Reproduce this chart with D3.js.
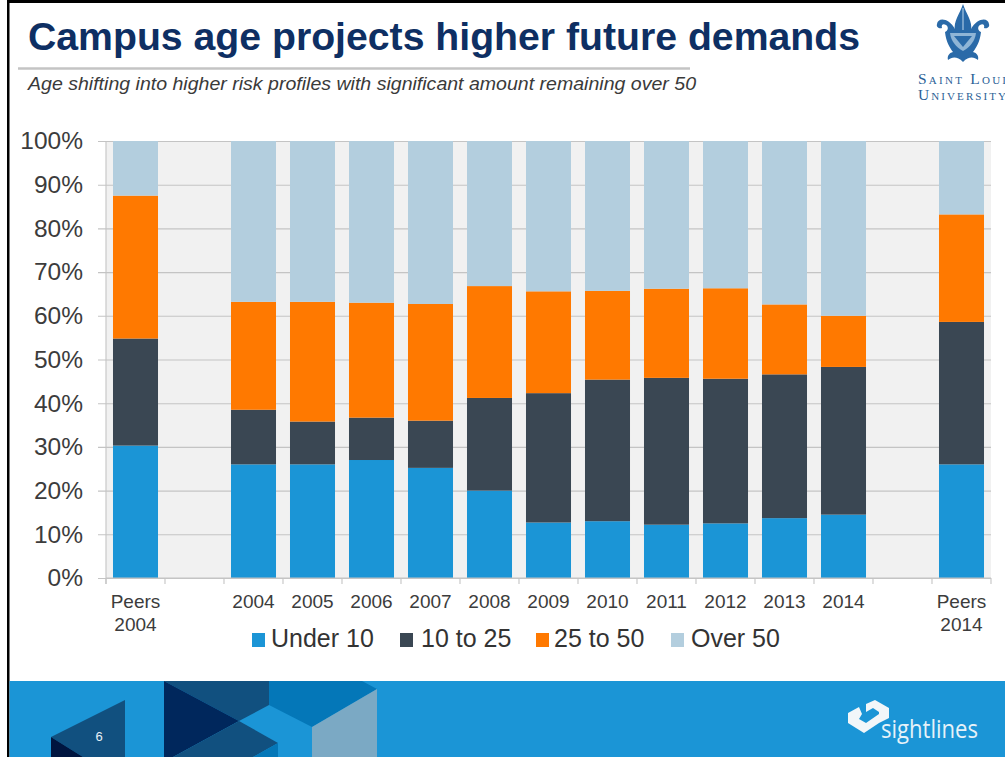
<!DOCTYPE html>
<html><head><meta charset="utf-8">
<script src="https://cdn.jsdelivr.net/npm/d3@7"></script>
<style>html,body{margin:0;padding:0;background:#fff;overflow:hidden}svg{display:block}text{font-family:"Liberation Sans",Arial,sans-serif}</style>
</head><body><svg id="c" width="1005" height="757"></svg>
<script>
const categories=["Peers 2004","gapA","2004","2005","2006","2007","2008","2009","2010","2011","2012","2013","2014","gapB","Peers 2014"];
const under10=[30.3,0,26,26,27,25.2,20,12.7,13,12.2,12.5,13.7,14.5,0,26];
const from10to25=[24.5,0,12.5,9.8,9.7,10.8,21.2,29.6,32.4,33.6,33.1,32.9,33.8,0,32.6];
const from25to50=[32.7,0,24.7,27.4,26.3,26.7,25.6,23.3,20.3,20.4,20.7,16,11.7,0,24.6];
const over50=[12.5,0,36.8,36.8,37,37.3,33.2,34.4,34.3,33.8,33.7,37.4,40,0,16.8];
const seriesNames=["Under 10","10 to 25","25 to 50","Over 50"];
const seriesValues=[under10,from10to25,from25to50,over50];
const seriesColors=["#1b95d6","#3a4753","#ff7900","#b3cede"];
const yTicks=[0,10,20,30,40,50,60,70,80,90,100];

const svg=d3.select("#c");
const x=d3.scaleBand().domain(categories).range([106,991]).paddingInner(0.237).paddingOuter(0.1185);
const y=d3.scaleLinear().domain([0,100]).range([578,141]);
const GRID="#c4c4c4", INK="#3c3c3c";

// slide frame
svg.append("rect").attr("x",7).attr("y",0).attr("width",998).attr("height",3).attr("fill","#000");
svg.append("rect").attr("x",7).attr("y",0).attr("width",2.5).attr("height",757).attr("fill","#000");

// title block
svg.append("text").attr("x",28).attr("y",50).attr("font-size",38.5).attr("font-weight",700).attr("fill","#0e2f63")
 .attr("textLength",832).attr("lengthAdjust","spacingAndGlyphs").text("Campus age projects higher future demands");
svg.append("line").attr("x1",18).attr("x2",690).attr("y1",68.5).attr("y2",68.5).attr("stroke",GRID).attr("stroke-width",2.5);
svg.append("text").attr("x",28).attr("y",90).attr("font-size",18.5).attr("font-style","italic").attr("fill","#3a3a3a")
 .attr("textLength",668).attr("lengthAdjust","spacingAndGlyphs").text("Age shifting into higher risk profiles with significant amount remaining over 50");

// Saint Louis University mark
const LOGO="#2a6aa8";
const crest=svg.append("g").attr("fill",LOGO);
crest.append("path").attr("d","M963 4C960 14 953 21 955 31L971 31C973 21 966 14 963 4Z");
crest.append("path").attr("d","M955 29C949 18 938 17 937 24C936 27 939 29 942 28C941 25 943 23 946 25C949 27 948 31 945 32C946 42 950 48 953 52C949 53 947 56 948 60C952 57 957 56 963 62C969 56 974 57 978 60C979 56 977 53 973 52C976 48 980 42 981 32C978 31 977 27 980 25C983 23 985 25 984 28C987 29 990 27 989 24C988 17 977 18 971 29Z");
crest.append("path").attr("d","M950 33H976C975 41 970 47 963 51C956 47 951 41 950 33Z").attr("fill","#8fb5d6");
crest.append("path").attr("d","M954 36H972L963 47Z").attr("fill",LOGO);
crest.append("path").attr("d","M963 8V30").attr("stroke","#8fb5d6").attr("stroke-width",1.5).attr("fill","none");
const serifMark=(t,yy)=>svg.append("text").attr("x",918).attr("y",yy).attr("font-size",15.5).attr("fill","#2b5f96")
 .style("font-family",'"Liberation Serif",serif').style("font-variant","small-caps").attr("textLength",88).text(t);
serifMark("Saint Loui",84);
serifMark("University",100);

// plot background
svg.append("rect").attr("x",106).attr("y",141).attr("width",885).attr("height",437).attr("fill","#f1f1f1");

// grid and y axis
const yAxis=d3.axisLeft(y).tickValues(yTicks).tickSize(0).tickPadding(23).tickFormat(d=>d+"%");
const gy=svg.append("g").attr("transform","translate(106,0)").call(yAxis);
gy.select(".domain").remove();
gy.selectAll("text").attr("font-size",24.5).attr("fill",INK).style("font-family",'"Liberation Sans",Arial,sans-serif');
gy.selectAll(".tick").append("line").attr("x1",-8).attr("x2",885).attr("stroke",GRID).attr("stroke-width",1.1);
svg.append("line").attr("x1",106).attr("x2",106).attr("y1",141).attr("y2",584).attr("stroke",GRID).attr("stroke-width",1.1);

// bars
const stackGen=d3.stack().keys(d3.range(4)).value((d,k)=>d[k]);
const rows=categories.map((c,i)=>seriesValues.map(s=>s[i]));
svg.append("g").selectAll("g").data(stackGen(rows)).join("g").attr("fill",(d,i)=>seriesColors[i])
 .selectAll("rect").data(d=>d.map((v,i)=>({v,c:categories[i]})).filter(d=>d.v[1]>d.v[0])).join("rect")
 .attr("x",d=>x(d.c)).attr("width",x.bandwidth()).attr("y",d=>y(d.v[1])).attr("height",d=>y(d.v[0])-y(d.v[1]));

// x axis ticks
const edges=categories.map(c=>x(c)-x.step()*x.paddingInner()/2).concat([991]);
svg.append("g").selectAll("line").data(edges).join("line").attr("x1",d=>d).attr("x2",d=>d).attr("y1",578).attr("y2",584).attr("stroke",GRID).attr("stroke-width",1.1);
svg.append("line").attr("x1",106).attr("x2",991).attr("y1",578).attr("y2",578).attr("stroke",GRID).attr("stroke-width",1.1);
const lab=svg.append("g").selectAll("text").data(categories.filter(c=>!c.startsWith("gap"))).join("text")
 .attr("text-anchor","middle").attr("font-size",19).attr("fill",INK).attr("y",608);
lab.each(function(d){const p=d.split(" ");const t=d3.select(this);
 p.forEach((w,i)=>t.append("tspan").attr("x",x(d)+x.bandwidth()/2).attr("dy",i?23:0).text(w));});

// legend
const legendX=[252,400,536,671], legendTextX=[271,421,554,691];
seriesNames.forEach((n,i)=>{
 svg.append("rect").attr("x",legendX[i]).attr("y",633).attr("width",13).attr("height",14).attr("fill",seriesColors[i]);
 svg.append("text").attr("x",legendTextX[i]).attr("y",647).attr("font-size",25).attr("fill","#333").text(n);
});

// footer band
svg.append("rect").attr("x",9.5).attr("y",681).attr("width",996).attr("height",76).attr("fill","#1b95d6");
const poly=(pts,f)=>svg.append("polygon").attr("points",pts).attr("fill",f);
poly("51,737 125,700 125,757 83,757","#11507f");
poly("51,737 83,757 51,757","#00153f");
poly("164,681 269,681 269,705 239,721","#11507f");
poly("269,681 362,681 377,689 312,727 269,705","#0477b8");
poly("312,727 377,689 377,757 312,757","#7ba9c4");
poly("164,681 239,721 173,757 164,757","#00275c");
poly("239,721 278,743 253,757 173,757","#11507f");
poly("278,743 278,757 253,757","#0477b8");
svg.append("text").attr("x",99).attr("y",741).attr("text-anchor","middle").attr("font-size",13).attr("fill","#e8f1f7").text("6");

// sightlines mark
const SL="#f2f6f9";
poly("875,700 889,708 889,718 879,723 879,712 873,708 866,712 866,704",SL);
poly("848,713 859,707 862,714 859,719 866,723 879,714 879,723 864,733 848,723",SL);
svg.append("text").attr("x",881).attr("y",738).attr("font-size",25).attr("fill","#e6f2f9").style("font-family",'"Open Sans",sans-serif')
 .attr("textLength",97).attr("lengthAdjust","spacingAndGlyphs").text("sightlines");
</script></body></html>
